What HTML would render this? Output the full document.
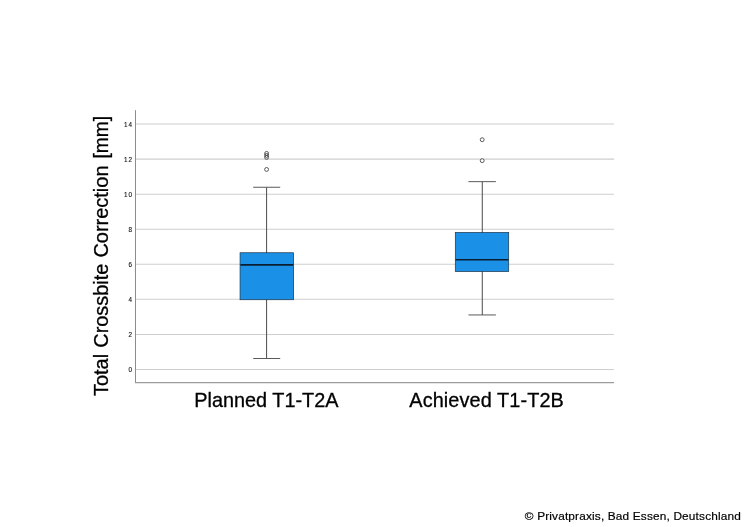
<!DOCTYPE html>
<html><head><meta charset="utf-8"><title>Boxplot</title>
<style>
html,body{margin:0;padding:0;background:#fff;}
body{width:746px;height:527px;position:relative;overflow:hidden;font-family:"Liberation Sans",sans-serif;}
svg text{font-family:"Liberation Sans",sans-serif;}
</style></head><body>
<svg width="746" height="527" viewBox="0 0 746 527" style="position:absolute;left:0;top:0">
<line x1="135.5" x2="614" y1="369.45" y2="369.45" stroke="#cecece" stroke-width="1.05"/>
<text x="133.1" y="372.00" font-size="6.3" text-anchor="end" fill="#111" stroke="#111" stroke-width="0.12" letter-spacing="1">0</text>
<line x1="135.5" x2="614" y1="334.40" y2="334.40" stroke="#cecece" stroke-width="1.05"/>
<text x="133.1" y="336.95" font-size="6.3" text-anchor="end" fill="#111" stroke="#111" stroke-width="0.12" letter-spacing="1">2</text>
<line x1="135.5" x2="614" y1="299.34" y2="299.34" stroke="#cecece" stroke-width="1.05"/>
<text x="133.1" y="301.89" font-size="6.3" text-anchor="end" fill="#111" stroke="#111" stroke-width="0.12" letter-spacing="1">4</text>
<line x1="135.5" x2="614" y1="264.29" y2="264.29" stroke="#cecece" stroke-width="1.05"/>
<text x="133.1" y="266.84" font-size="6.3" text-anchor="end" fill="#111" stroke="#111" stroke-width="0.12" letter-spacing="1">6</text>
<line x1="135.5" x2="614" y1="229.23" y2="229.23" stroke="#cecece" stroke-width="1.05"/>
<text x="133.1" y="231.78" font-size="6.3" text-anchor="end" fill="#111" stroke="#111" stroke-width="0.12" letter-spacing="1">8</text>
<line x1="135.5" x2="614" y1="194.18" y2="194.18" stroke="#cecece" stroke-width="1.05"/>
<text x="133.1" y="196.73" font-size="6.3" text-anchor="end" fill="#111" stroke="#111" stroke-width="0.12" letter-spacing="1">10</text>
<line x1="135.5" x2="614" y1="159.13" y2="159.13" stroke="#cecece" stroke-width="1.05"/>
<text x="133.1" y="161.68" font-size="6.3" text-anchor="end" fill="#111" stroke="#111" stroke-width="0.12" letter-spacing="1">12</text>
<line x1="135.5" x2="614" y1="124.07" y2="124.07" stroke="#cecece" stroke-width="1.05"/>
<text x="133.1" y="126.62" font-size="6.3" text-anchor="end" fill="#111" stroke="#111" stroke-width="0.12" letter-spacing="1">14</text>
<line x1="135.5" x2="135.5" y1="110.2" y2="383" stroke="#8c8c8c" stroke-width="1"/>
<line x1="135" x2="614" y1="382.65" y2="382.65" stroke="#9c9c9c" stroke-width="1.2"/>
<line x1="266.55" x2="266.55" y1="187.25" y2="358.5" stroke="#5a5a5a" stroke-width="1.1"/>
<line x1="253.2" x2="280.2" y1="187.25" y2="187.25" stroke="#5a5a5a" stroke-width="1"/>
<line x1="253.2" x2="280.2" y1="358.5" y2="358.5" stroke="#5a5a5a" stroke-width="1"/>
<rect x="240.05" y="252.75" width="53.55" height="47.00" fill="#1a90e6" stroke="#1f3347" stroke-width="0.7"/>
<line x1="240.40" x2="293.25" y1="264.9" y2="264.9" stroke="#0b1e30" stroke-width="1.65"/>
<circle cx="266.6" cy="169.45" r="1.95" fill="#fff" stroke="#2a2a2a" stroke-width="0.75"/>
<circle cx="266.6" cy="157.4" r="1.95" fill="none" stroke="#2a2a2a" stroke-width="0.75"/>
<circle cx="266.6" cy="155.4" r="1.95" fill="none" stroke="#2a2a2a" stroke-width="0.75"/>
<circle cx="266.6" cy="153.4" r="1.95" fill="none" stroke="#2a2a2a" stroke-width="0.75"/>
<line x1="482.3" x2="482.3" y1="181.65" y2="314.95" stroke="#5a5a5a" stroke-width="1.1"/>
<line x1="468.45" x2="495.9" y1="181.65" y2="181.65" stroke="#5a5a5a" stroke-width="1"/>
<line x1="468.45" x2="495.9" y1="314.95" y2="314.95" stroke="#5a5a5a" stroke-width="1"/>
<rect x="455.30" y="232.45" width="53.40" height="39.10" fill="#1a90e6" stroke="#1f3347" stroke-width="0.7"/>
<line x1="455.65" x2="508.35" y1="259.7" y2="259.7" stroke="#0b1e30" stroke-width="1.65"/>
<circle cx="482.2" cy="160.65" r="1.95" fill="#fff" stroke="#2a2a2a" stroke-width="0.75"/>
<circle cx="482.2" cy="139.7" r="1.95" fill="#fff" stroke="#2a2a2a" stroke-width="0.75"/>
<text x="194.3" y="407.3" font-size="19.85" fill="#000" stroke="#000" stroke-width="0.3">Planned T1-T2A</text>
<text x="409.3" y="407.3" font-size="19.85" textLength="154.5" fill="#000" stroke="#000" stroke-width="0.3">Achieved T1-T2B</text>
<text transform="translate(107.8,395.9) rotate(-90)" font-size="19.6" textLength="42.0" lengthAdjust="spacingAndGlyphs" fill="#000" stroke="#000" stroke-width="0.3">Total</text>
<text transform="translate(107.8,347.7) rotate(-90)" font-size="19.6" textLength="84.0" lengthAdjust="spacingAndGlyphs" fill="#000" stroke="#000" stroke-width="0.3">Crossbite</text>
<text transform="translate(107.8,257.6) rotate(-90)" font-size="19.6" textLength="92.1" lengthAdjust="spacingAndGlyphs" fill="#000" stroke="#000" stroke-width="0.3">Correction</text>
<text transform="translate(107.8,158.5) rotate(-90)" font-size="19.6" textLength="42.6" lengthAdjust="spacingAndGlyphs" fill="#000" stroke="#000" stroke-width="0.3">[mm]</text>
<text x="524.8" y="519.8" font-size="11.3" letter-spacing="0.15" textLength="216.2" lengthAdjust="spacingAndGlyphs" fill="#000" stroke="#000" stroke-width="0.18">© Privatpraxis, Bad Essen, Deutschland</text>
</svg>
</body></html>
